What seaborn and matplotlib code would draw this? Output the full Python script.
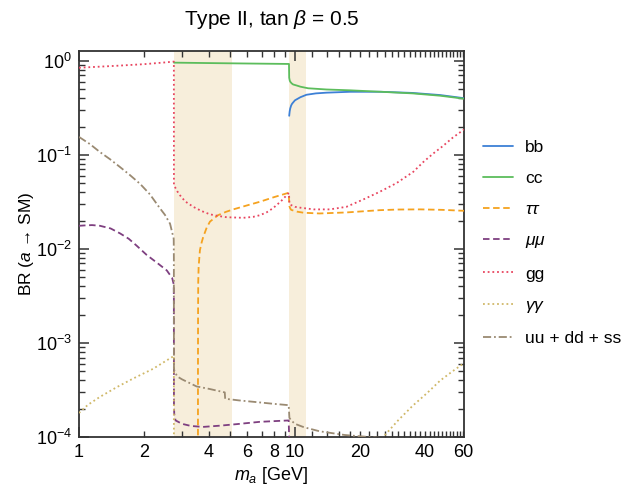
import matplotlib
matplotlib.use("Agg")
import matplotlib.pyplot as plt
import numpy as np
import pandas as pd
import seaborn as sns
from matplotlib.ticker import FixedLocator, FuncFormatter, NullFormatter

# ---- branching ratios of a pseudoscalar a, 2HDM Type II, tan(beta) = 0.5 ----
m_bb = [9.40, 9.45, 9.50, 9.60, 9.70, 9.85, 10.0, 10.3, 10.6, 11.3, 12.5, 14.0, 18.0, 25.0, 35.0, 47.0, 60.6]
br_bb = [0.26, 0.29, 0.31, 0.335, 0.35, 0.365, 0.38, 0.395, 0.41, 0.435, 0.45, 0.458, 0.468, 0.468,
         0.455, 0.432, 0.40]

m_cc = [2.751, 4.0, 6.0, 9.38, 9.40, 9.45, 9.50, 9.65, 9.80, 10.2, 10.6, 11.5, 14.0, 18.0, 25.0,
        35.0, 47.0, 60.6]
br_cc = [0.955, 0.945, 0.935, 0.925, 0.66, 0.62, 0.60, 0.575, 0.56, 0.545, 0.53, 0.51, 0.495, 0.485,
         0.468, 0.45, 0.425, 0.395]

m_tautau = [3.553, 3.555, 3.558, 3.565, 3.58, 3.63, 3.70, 3.76, 3.90, 4.04, 4.4, 4.8, 5.18, 6.0, 6.88,
            8.0, 9.35, 9.42, 9.5, 9.6, 10.2, 11.0, 13.0, 17.3, 24.7, 30.0, 38.0, 48.0, 60.6]
br_tautau = [1e-6, 5e-4, 2e-3, 4.5e-3, 6.5e-3, 9.7e-3, 0.0118, 0.0134, 0.0168, 0.0195, 0.0228, 0.0248,
             0.0263, 0.029, 0.0317, 0.0355, 0.0395, 0.0285, 0.027, 0.026, 0.0249, 0.0242, 0.0238,
             0.0244, 0.0258, 0.0262, 0.0263, 0.026, 0.0254]

m_mumu = [1.0, 1.08, 1.15, 1.25, 1.4, 1.55, 1.7, 1.85, 2.06, 2.3, 2.55, 2.7, 2.745, 2.749, 2.7505,
          2.752, 2.76, 2.8, 3.0, 3.3, 3.75, 4.5, 5.37, 6.88, 9.35, 9.42, 60.6]
br_mumu = [0.0176, 0.0178, 0.0179, 0.0176, 0.0165, 0.0146, 0.0128, 0.0108, 0.0086, 0.0071, 0.0059,
           0.0049, 0.0042, 0.003, 5e-4, 2.2e-4, 1.75e-4, 1.5e-4, 1.38e-4, 1.31e-4, 1.28e-4, 1.32e-4,
           1.37e-4, 1.45e-4, 1.5e-4, 8e-5, 6e-5]

m_gg = [1.0, 1.5, 2.0, 2.5, 2.749, 2.751, 2.78, 2.85, 2.93, 3.1, 3.38, 3.7, 4.04, 4.4, 4.83, 5.77,
        6.4, 6.88, 7.4, 7.9, 8.6, 9.3, 9.38, 9.42, 9.5, 10.0, 10.6, 12.2, 14.5, 17.3, 20.7, 24.7,
        29.5, 35.3, 39.3, 43.6, 48.4, 53.7, 60.6]
br_gg = [0.843, 0.885, 0.92, 0.96, 0.98, 0.048, 0.0456, 0.041, 0.0373, 0.032, 0.028, 0.0252, 0.0233,
         0.0224, 0.0217, 0.0214, 0.0219, 0.0228, 0.0245, 0.027, 0.032, 0.0387, 0.0392, 0.031, 0.0295,
         0.028, 0.0274, 0.0263, 0.0263, 0.028, 0.0335, 0.0405, 0.050, 0.066, 0.084, 0.103, 0.124,
         0.152, 0.186]

m_gamgam = [1.0, 1.1, 1.25, 1.5, 1.78, 2.2, 2.73, 2.749, 2.751, 20.0, 23.5, 25.6, 30.0, 35.0, 41.0,
            47.0, 53.0, 60.6]
br_gamgam = [1.8e-4, 2.2e-4, 2.67e-4, 3.4e-4, 4.18e-4, 5.3e-4, 7.2e-4, 7.3e-4, 2e-5, 2e-5, 7.5e-5,
             1.0e-4, 1.5e-4, 2.14e-4, 2.95e-4, 3.98e-4, 4.9e-4, 6.1e-4]

m_light = [1.0, 1.124, 1.25, 1.39, 1.55, 1.72, 1.92, 2.13, 2.37, 2.5, 2.64, 2.745, 2.749, 2.7505,
           2.752, 2.76, 2.85, 3.0, 3.5, 4.0, 4.73, 4.75, 5.5, 6.88, 8.0, 9.35, 9.42, 9.6, 10.0, 11.0,
           13.0, 17.0, 22.0, 26.0, 60.6]
br_light = [0.155, 0.13, 0.107, 0.09, 0.074, 0.061, 0.049, 0.038, 0.027, 0.023, 0.0185, 0.0128,
            0.008, 8e-4, 5.5e-4, 5.1e-4, 4.4e-4, 4.1e-4, 3.45e-4, 3.25e-4, 2.98e-4, 2.55e-4, 2.45e-4,
            2.33e-4, 2.25e-4, 2.18e-4, 1.6e-4, 1.5e-4, 1.38e-4, 1.27e-4, 1.15e-4, 1.05e-4, 1.0e-4,
            0.97e-4, 0.85e-4]

channels = ["bb", "cc", r"$\tau\tau$", r"$\mu\mu$", "gg", r"$\gamma\gamma$", "uu + dd + ss"]
masses = [m_bb, m_cc, m_tautau, m_mumu, m_gg, m_gamgam, m_light]
ratios = [br_bb, br_cc, br_tautau, br_mumu, br_gg, br_gamgam, br_light]

# shaded hadronic-resonance regions
bands = [(2.75, 5.09), (9.38, 11.3)]

colors = {
    "bb": "#3d80d6",
    "cc": "#5cbd5c",
    r"$\tau\tau$": "#f5a21f",
    r"$\mu\mu$": "#7e3f80",
    "gg": "#e8455f",
    r"$\gamma\gamma$": "#d0b868",
    "uu + dd + ss": "#9a8a72",
}
dashes = {
    "bb": "",
    "cc": "",
    r"$\tau\tau$": (3.6, 2.0),
    r"$\mu\mu$": (3.6, 2.0),
    "gg": (1.0, 1.6),
    r"$\gamma\gamma$": (1.0, 1.6),
    "uu + dd + ss": (4.5, 1.6, 1.0, 1.6),
}

df = pd.concat(
    [pd.DataFrame({"m": m, "br": b, "channel": c}) for m, b, c in zip(masses, ratios, channels)],
    ignore_index=True,
)

sns.set_theme(style="ticks")
plt.rcParams["font.family"] = ["Liberation Sans", "DejaVu Sans"]
plt.rcParams["mathtext.fontset"] = "custom"
plt.rcParams["mathtext.rm"] = "Liberation Sans"
plt.rcParams["mathtext.it"] = "Liberation Sans:italic"
plt.rcParams["mathtext.bf"] = "Liberation Sans:bold"
plt.rcParams["text.color"] = "black"
plt.rcParams["axes.labelcolor"] = "black"

fig = plt.figure(figsize=(6.31, 4.95), dpi=100)
ax = fig.add_axes([79 / 631, 58 / 495, 385 / 631, 386 / 495])

for lo, hi in bands:
    ax.axvspan(lo, hi, color="#f7eedb", lw=0, zorder=0)

sns.lineplot(
    data=df, x="m", y="br", hue="channel", style="channel",
    palette=colors, dashes=dashes, hue_order=channels, style_order=channels,
    estimator=None, sort=True, lw=1.3, ax=ax, zorder=3,
)

ax.set_xscale("log")
ax.set_yscale("log")
ax.set_xlim(1, 60.6)
ax.set_ylim(1e-4, 1.27)

# x ticks: long marks at decades, short ones elsewhere, selected labels
ax.xaxis.set_major_locator(FixedLocator([1, 10]))
minor_x = [2, 3, 4, 5, 6, 7, 8, 9] + list(range(12, 61, 2))
ax.xaxis.set_minor_locator(FixedLocator(minor_x))
shown = {1, 2, 4, 6, 8, 10, 20, 40, 60}
fmt_x = FuncFormatter(lambda v, p: f"{v:g}" if round(v) in shown and abs(v - round(v)) < 1e-6 else "")
ax.xaxis.set_major_formatter(fmt_x)
ax.xaxis.set_minor_formatter(fmt_x)

ax.yaxis.set_major_locator(FixedLocator([1e-4, 1e-3, 1e-2, 1e-1, 1]))
ax.yaxis.set_major_formatter(FuncFormatter(lambda v, p: r"$10^{%d}$" % round(np.log10(v))))
minor_y = [k * 10.0 ** e for e in range(-4, 1) for k in range(2, 10)]
ax.yaxis.set_minor_locator(FixedLocator(minor_y))
ax.yaxis.set_minor_formatter(NullFormatter())

ax.tick_params(which="both", direction="in", top=True, right=True, color="#333333",
               labelsize=13, labelcolor="black", pad=5)
ax.tick_params(which="major", length=7, width=1.1)
ax.tick_params(which="minor", length=4, width=1.0)
for s in ax.spines.values():
    s.set_color("#333333")
    s.set_linewidth(1.3)

ax.set_xlabel(r"$m_a$ [GeV]", fontsize=13, labelpad=3, color="black")
ax.set_ylabel(r"BR ($a$ → SM)", fontsize=12.5, labelpad=0, color="black")
ax.set_title(r"Type II, tan $\beta$ = 0.5", fontsize=15, pad=19, color="black")

handles, labels = ax.get_legend_handles_labels()
ax.legend(handles, labels, loc="center left", bbox_to_anchor=(1.049, 0.503),
          frameon=False, fontsize=12.5, handlelength=1.75, handletextpad=0.7,
          labelspacing=0.92, borderaxespad=0, borderpad=0)

fig.savefig("out.png", dpi=100)
